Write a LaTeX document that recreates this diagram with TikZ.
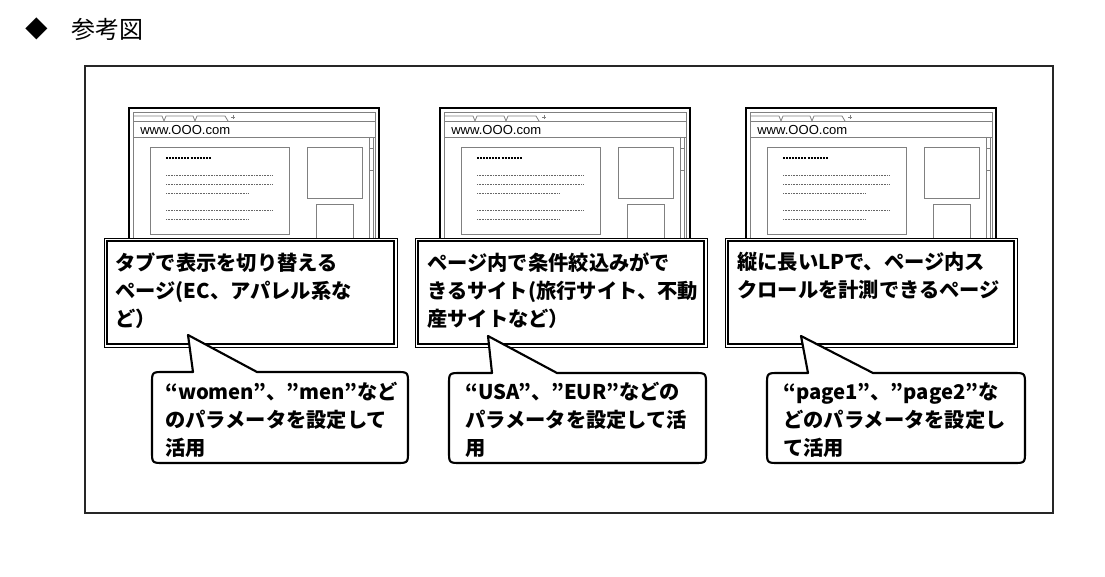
\documentclass[tikz,border=0pt]{standalone}
\usepackage{fontspec}
\setmainfont{Noto Sans CJK JP}
\newfontfamily\urlfont{Liberation Sans}
\tikzset{
  outerframe/.style={line width=1.1pt, black!85},
  winthick/.style={line width=2.2pt, black},
  winthin/.style={line width=0.6pt, black!50},
  dotline/.style={line width=0.45pt, black!60, dash pattern=on 0.6pt off 0.6pt},
  darkdash/.style={line width=0.8pt, black, dash pattern=on 1.5pt off 0.8pt},
  boxouter/.style={line width=0.75pt, black, fill=white},
  boxinner/.style={line width=1.4pt, black},
  bubble/.style={line width=1.6pt, black, fill=white, line join=round},
  boxtext/.style={font=\fontsize{15.2}{21}\selectfont\bfseries, align=left, inner sep=0pt, anchor=north west},
  urltext/.style={font=\urlfont\fontsize{9.8}{10}\selectfont, inner sep=0pt, anchor=west},
  browser/.pic={
    \draw[winthin] (4,137) -- (4,4) -- (246,4) -- (246,137);
    \draw[winthin] (4,8) -- (33,8) -- (35,13) -- (37,8) -- (64,8) -- (66,13) -- (68,8) -- (96,8) -- (99,13);
    \draw[winthin] (102,9) -- (106,9) (104,7) -- (104,11);
    \draw[winthin] (4,13) -- (246,13);
    \draw[winthin] (4,29) -- (246,29);
    \node[urltext] (-url) at (11,22) {www.OOO.com};
    \draw[winthin] (21,39) rectangle (160,126);
    \draw[darkdash] (37,50) -- (82,50);
    \draw[dotline] (37,67) -- (144,67);
    \draw[dotline] (37,76) -- (144,76);
    \draw[dotline] (37,85) -- (119,85);
    \draw[dotline] (37,102) -- (144,102);
    \draw[dotline] (37,111) -- (119,111);
    \draw[winthin] (178,39) rectangle (233,90);
    \draw[winthin] (187,137) -- (187,96) -- (224,96) -- (224,137);
    \draw[winthin] (240,29) -- (240,137) (244,29) -- (244,137);
    \draw[winthin] (240,40) rectangle (244,62);
    \draw[winthick] (0,137) -- (0,0) -- (250,0) -- (250,137);
  }
}
\newcommand\callbox[4]{% left top right bottom
  \draw[boxouter] (#1,#2) rectangle (#3,#4);
  \draw[boxinner] ({#1+3},{#2+3}) rectangle ({#3-3},{#4-3});
}
\newcommand\spbubble[8]{% left right top bottom tipx tipy baseL baseR
  \draw[bubble] (#5,#6) -- (#8,#3) -- ({#2-12},#3) .. controls (#2,#3) .. (#2,{#3+12})
    -- (#2,{#4-12}) .. controls (#2,#4) .. ({#2-12},#4)
    -- ({#1+12},#4) .. controls (#1,#4) .. (#1,{#4-12})
    -- (#1,{#3+12}) .. controls (#1,#3) .. ({#1+12},#3) -- (#7,#3) -- cycle;
}
\begin{document}
\begin{tikzpicture}[x=0.75pt,y=-0.75pt]
\useasboundingbox (0,0) rectangle (1105,577);
% header
\node[font=\fontsize{17}{18}\selectfont, inner sep=0pt] (mark) at (37,29) {◆};
\node[font=\fontsize{18}{20}\selectfont, inner sep=0pt, anchor=west] (title) at (71,29) {参考図};
% outer frame
\draw[outerframe] (85,66) rectangle (1053,513);
% browsers
\pic (w1) at (129,108) {browser};
\pic (w2) at (440,108) {browser};
\pic (w3) at (746,108) {browser};
% callout boxes
\callbox{104}{238}{397}{347}
\callbox{415}{238}{707}{347}
\callbox{725}{238}{1017}{347}
\node[boxtext] (t1) at (115,252) {タブで表示を切り替える\\ページ(EC、アパレル系な\\ど）};
\node[boxtext] (t2) at (427,252) {ページ内で条件絞込みがで\\きるサイト(旅行サイト、不動\\産サイトなど）};
\node[boxtext] (t3) at (737,252) {縦に長いLPで、ページ内ス\\クロールを計測できるページ};
% bubbles
\spbubble{152}{408}{372}{463}{188}{335}{193}{257}
\spbubble{449}{706}{373}{463}{488}{336}{492}{557}
\spbubble{767}{1025}{373}{463}{801}{336}{808}{873}
\node[boxtext] (b1) at (165,382) {“women”、”men”など\\のパラメータを設定して\\活用};
\node[boxtext] (b2) at (465,382) {“USA”、”EUR”などの\\パラメータを設定して活\\用};
\node[boxtext] (b3) at (783,382) {“page1”、”page2”な\\どのパラメータを設定し\\て活用};
\end{tikzpicture}
\end{document}
